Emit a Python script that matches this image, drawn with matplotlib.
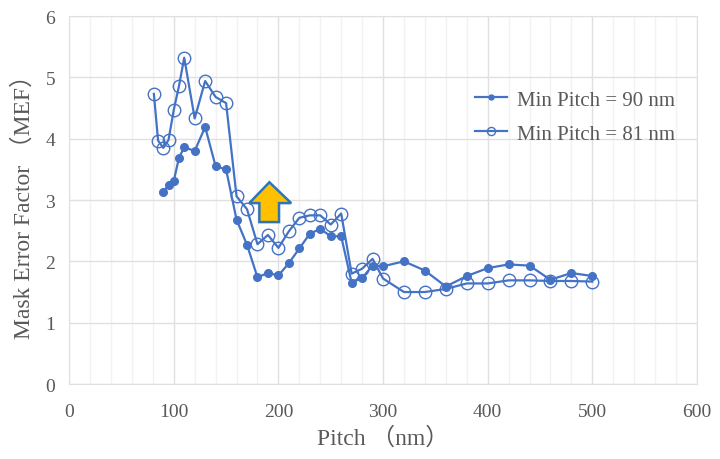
import matplotlib
matplotlib.use("Agg")
import matplotlib.pyplot as plt
from matplotlib.patches import Polygon

# data
pitch_90 = [90, 95, 100, 105, 110, 120, 130, 140, 150, 160, 170, 180, 190, 200,
            210, 220, 230, 240, 250, 260, 270, 280, 290, 300, 320, 340, 360, 380,
            400, 420, 440, 460, 480, 500]
mef_90 = [3.13, 3.24, 3.31, 3.69, 3.86, 3.80, 4.19, 3.55, 3.50, 2.68, 2.27, 1.74,
          1.81, 1.77, 1.97, 2.21, 2.45, 2.53, 2.41, 2.41, 1.65, 1.73, 1.93, 1.92,
          2.00, 1.85, 1.59, 1.76, 1.89, 1.95, 1.93, 1.70, 1.81, 1.76]

pitch_81 = [81, 85, 90, 95, 100, 105, 110, 120, 130, 140, 150, 160, 170, 180, 190,
            200, 210, 220, 230, 240, 250, 260, 270, 280, 290, 300, 320, 340, 360,
            380, 400, 420, 440, 460, 480, 500]
mef_81 = [4.73, 3.97, 3.85, 3.98, 4.47, 4.86, 5.32, 4.33, 4.94, 4.68, 4.58, 3.06,
          2.85, 2.28, 2.43, 2.22, 2.49, 2.71, 2.75, 2.75, 2.60, 2.78, 1.80, 1.88,
          2.04, 1.72, 1.50, 1.50, 1.55, 1.64, 1.64, 1.69, 1.69, 1.68, 1.68, 1.67]

labels = ["Min Pitch = 90 nm", "Min Pitch = 81 nm"]
x_label = "Pitch （nm）"
y_label = "Mask Error Factor （MEF）"

blue = "#4472C4"
grey_text = "#595959"
fonts = ["Liberation Serif", "Noto Sans CJK SC"]

plt.rcParams["font.family"] = fonts

fig = plt.figure(figsize=(7.2, 4.6), dpi=100)
ax = fig.add_axes([0.096, 0.163, 0.872, 0.8])

ax.plot(pitch_90, mef_90, color=blue, lw=1.6, marker="o", ms=5.5,
        label=labels[0], zorder=3)
ax.plot(pitch_81, mef_81, color=blue, lw=1.6, marker="o", ms=9,
        mfc="none", mew=1.0, label=labels[1], zorder=3)

# yellow up arrow (annotation shape)
arrow_pts = [(181.8, 2.64), (200.6, 2.64), (200.6, 2.95), (212.2, 2.95),
             (191.4, 3.29), (172.2, 2.95), (181.8, 2.95)]
ax.add_patch(Polygon(arrow_pts, closed=True, facecolor="#FFC000",
                     edgecolor="#2E75B6", lw=1.8, zorder=4))

ax.set_xlim(0, 600)
ax.set_ylim(0, 6)
ax.set_xticks(range(0, 601, 100))
ax.set_xticks(range(0, 601, 20), minor=True)
ax.set_yticks(range(0, 7))
ax.grid(which="major", color="#E0E0E0", lw=1.0)
ax.grid(which="minor", axis="x", color="#F2F2F2", lw=1.0)
ax.set_axisbelow(True)
ax.tick_params(which="both", length=0, labelsize=14, labelcolor=grey_text)
ax.tick_params(axis="x", pad=14)
ax.tick_params(axis="y", pad=10)
for s in ax.spines.values():
    s.set_color("#E0E0E0")

ax.set_xlabel(x_label, fontsize=17, color=grey_text, labelpad=4)
ax.set_ylabel(y_label, fontsize=17, color=grey_text, labelpad=8)

ax.legend(loc="upper right", bbox_to_anchor=(0.995, 0.85), frameon=False,
          fontsize=15, labelcolor=grey_text, handlelength=1.5,
          handletextpad=0.5, markerscale=0.65, labelspacing=0.7)

fig.savefig("out.png", dpi=100)
